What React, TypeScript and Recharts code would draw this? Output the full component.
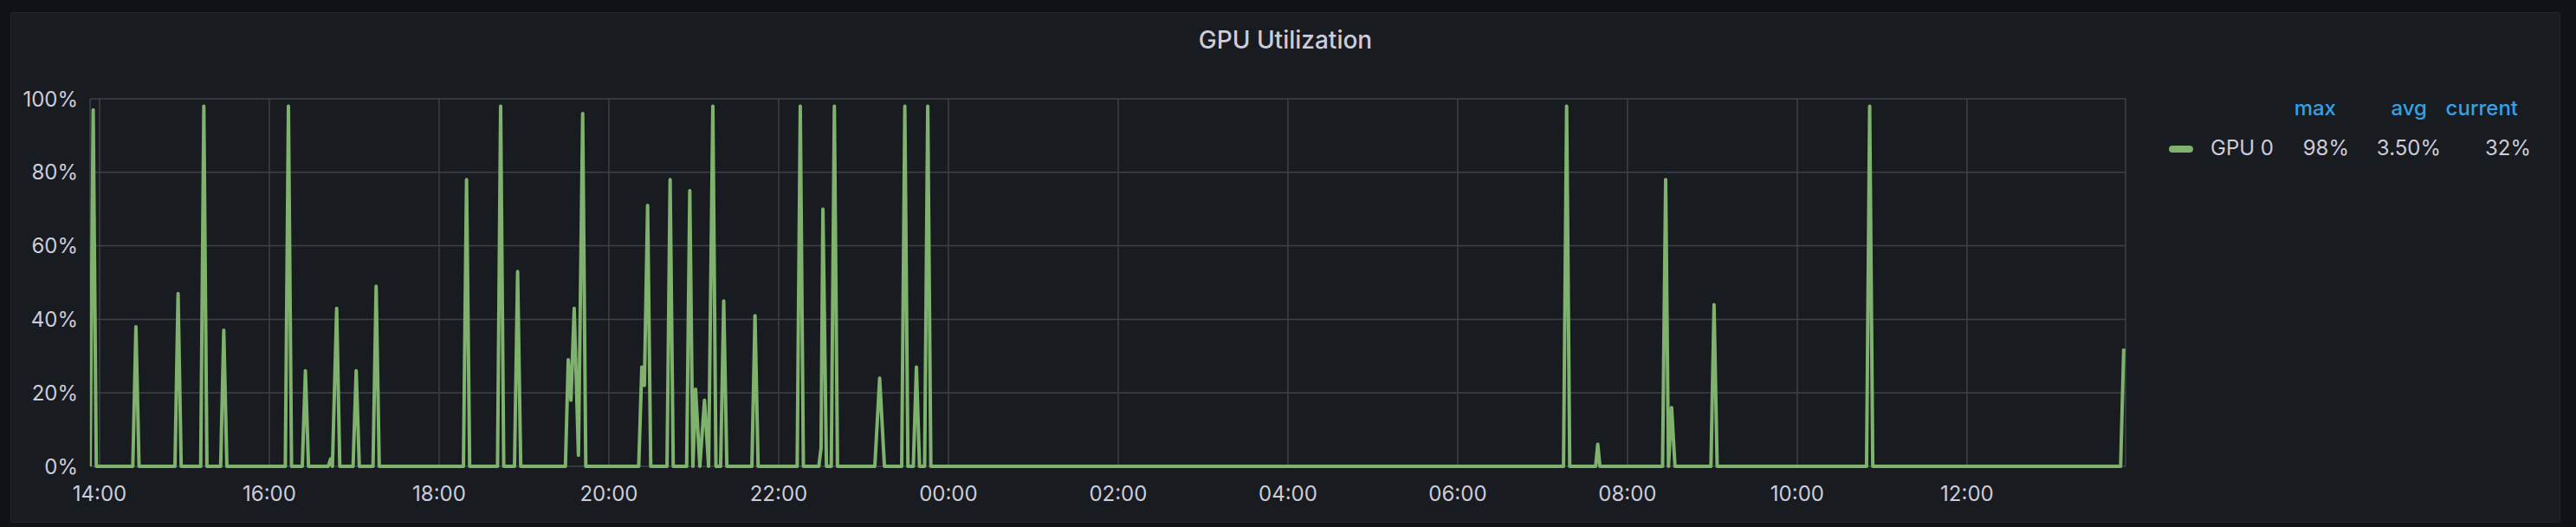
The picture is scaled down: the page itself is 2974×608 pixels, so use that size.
import React from "react";
import { LineChart, Line, XAxis, YAxis, CartesianGrid } from "recharts";

// minutes after 14:00
const times = [
  -6.7, -4.5, -2.3, 23.5, 25.7, 27.9, 53.3, 55.5, 57.7, 71.5, 73.7, 75.9,
  85.6, 87.8, 90.0, 131.3, 133.5, 135.7, 143.3, 145.5, 147.7, 161.7, 163.3, 164.6,
  167.6, 169.8, 179.2, 181.4, 183.6, 193.3, 195.5, 197.7, 257.2, 259.4, 261.6, 281.3,
  283.5, 285.7, 293.3, 295.5, 297.7, 329.3, 331.3, 333.2, 335.5, 338.5, 341.5, 343.7,
  381.1, 383.3, 385.1, 387.4, 389.6, 401.1, 403.3, 405.5, 415.0, 417.2, 419.4, 421.3,
  424.3, 427.6, 430.5, 433.5, 435.7, 439.0, 441.2, 443.4, 461.1, 463.3, 465.5, 493.1,
  495.3, 497.5, 508.4, 510.0, 511.3, 513.8, 517.2, 519.4, 521.6, 548.0, 551.4, 554.8,
  567.0, 569.2, 571.4, 575.2, 577.4, 579.6, 583.2, 585.4, 587.6, 1034.8, 1037.0, 1039.2,
  1057.5, 1059.0, 1060.5, 1104.8, 1107.0, 1109.0, 1111.2, 1113.6, 1139.0, 1141.2, 1143.4, 1249.0,
  1251.2, 1253.4, 1428.6, 1430.8,
];

const gpu0 = [
  0, 97, 0, 0, 38, 0, 0, 47, 0, 0, 98, 0,
  0, 37, 0, 0, 98, 0, 0, 26, 0, 0, 2, 0,
  43, 0, 0, 26, 0, 0, 49, 0, 0, 78, 0, 0,
  98, 0, 0, 53, 0, 0, 29, 18, 43, 3, 96, 0,
  0, 27, 22, 71, 0, 0, 78, 0, 0, 75, 0, 21,
  0, 18, 0, 98, 0, 0, 45, 0, 0, 41, 0, 0,
  98, 0, 0, 5, 70, 0, 0, 98, 0, 0, 24, 0,
  0, 98, 0, 0, 27, 0, 0, 98, 0, 0, 98, 0,
  0, 6, 0, 0, 78, 0, 16, 0, 0, 44, 0, 0,
  98, 0, 0, 32,
];

const tickMinutes = [0, 120, 240, 360, 480, 600, 720, 840, 960, 1080, 1200, 1320];
const tickLabels = ["14:00", "16:00", "18:00", "20:00", "22:00", "00:00", "02:00", "04:00", "06:00", "08:00", "10:00", "12:00"];
const yTicks = [0, 20, 40, 60, 80, 100];

const legendHeaders = ["max", "avg", "current"];
const legendName = "GPU 0";
const legendValues = ["98%", "3.50%", "32%"];

const data = times.map((t, i) => ({ t, v: gpu0[i] }));

const FONT = "Inter, 'Noto Sans', sans-serif";
const TEXT = "#ccccdc";
const GREEN = "#7eb26d";

export default function App() {
  const headerRight = [2697, 2802, 2907];
  const valueRight = [2712, 2818, 2922];
  return (
    <div style={{ position: "relative", width: 2974, height: 608, background: "#111217", overflow: "hidden", fontFamily: FONT }}>
      <style>{`body{margin:0;background:#111217;}`}</style>
      <div
        style={{
          position: "absolute",
          left: 12,
          top: 14,
          width: 2942,
          height: 587,
          background: "#181b1f",
          border: "1px solid #25272d",
          borderRadius: 3,
        }}
      />
      <div
        style={{
          position: "absolute",
          left: 12,
          width: 2944,
          top: 28,
          textAlign: "center",
          color: TEXT,
          fontSize: 28,
          fontWeight: 500,
          lineHeight: "36px",
        }}
      >
        GPU Utilization
      </div>
      <div style={{ position: "absolute", left: 0, top: 0 }}>
        <LineChart width={2974} height={608} data={data} margin={{ top: 114, right: 520, bottom: 30, left: 44 }}>
          <CartesianGrid stroke="#3d4046" strokeWidth={1.5} vertical horizontal />
          <XAxis
            dataKey="t"
            type="number"
            domain={[-6.7, 1432.1]}
            ticks={tickMinutes}
            tickFormatter={(v: number) => tickLabels[tickMinutes.indexOf(v)] ?? ""}
            axisLine={false}
            tickLine={false}
            tickSize={0}
            tickMargin={23}
            height={40}
            interval={0}
            allowDataOverflow
            tick={{ fill: TEXT, fontSize: 24, fontFamily: FONT }}
          />
          <YAxis
            type="number"
            domain={[0, 100]}
            ticks={yTicks}
            tickFormatter={(v: number) => `${v}%`}
            axisLine={false}
            tickLine={false}
            tickSize={0}
            tickMargin={14}
            width={60}
            interval={0}
            tick={{ fill: TEXT, fontSize: 24, fontFamily: FONT }}
          />
          <Line
            type="linear"
            dataKey="v"
            stroke={GREEN}
            strokeWidth={4}
            dot={false}
            activeDot={false}
            strokeLinejoin="round"
            isAnimationActive={false}
          />
        </LineChart>
      </div>
      {legendHeaders.map((h, i) => (
        <div
          key={h}
          style={{
            position: "absolute",
            right: 2974 - headerRight[i],
            top: 110,
            color: "#33a2e5",
            fontSize: 24,
            fontWeight: 500,
            lineHeight: "30px",
            whiteSpace: "nowrap",
          }}
        >
          {h}
        </div>
      ))}
      <div
        style={{
          position: "absolute",
          left: 2504,
          top: 168,
          width: 28,
          height: 8,
          borderRadius: 4,
          background: GREEN,
        }}
      />
      <div style={{ position: "absolute", left: 2552, top: 156, color: TEXT, fontSize: 24, lineHeight: "30px", whiteSpace: "nowrap" }}>
        {legendName}
      </div>
      {legendValues.map((v, i) => (
        <div
          key={i}
          style={{
            position: "absolute",
            right: 2974 - valueRight[i],
            top: 156,
            color: TEXT,
            fontSize: 24,
            lineHeight: "30px",
            whiteSpace: "nowrap",
          }}
        >
          {v}
        </div>
      ))}
    </div>
  );
}
